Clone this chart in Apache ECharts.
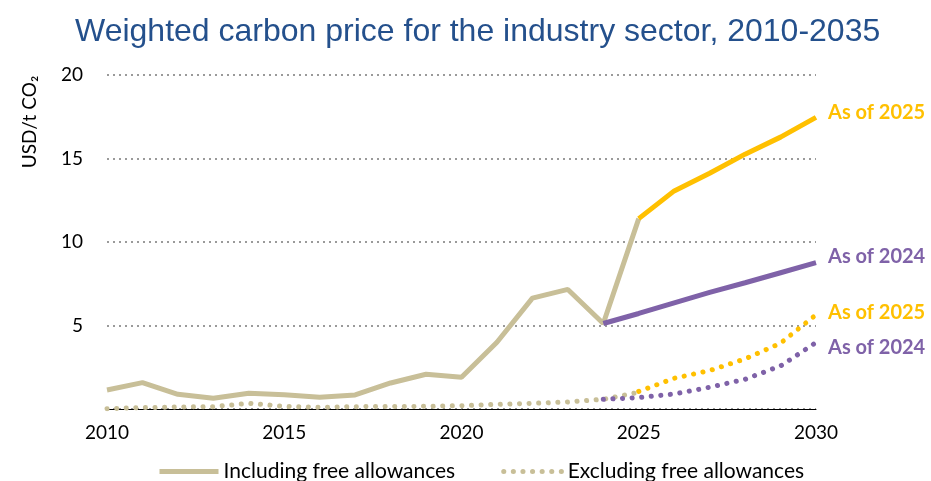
<!DOCTYPE html>
<html>
<head>
<meta charset="utf-8">
<script src="https://cdn.jsdelivr.net/npm/echarts@6/dist/echarts.min.js"></script>
<style>html,body{margin:0;padding:0;background:#fff}#c{width:931px;height:481px}</style>
</head>
<body>
<div id="c"></div>
<script>
const histYears = [2010,2011,2012,2013,2014,2015,2016,2017,2018,2019,2020,2021,2022,2023,2024,2025];
const inclFree = [1.14,1.58,0.88,0.64,0.94,0.86,0.7,0.84,1.56,2.08,1.9,4.0,6.64,7.16,5.12,11.4];
const exclFree = [0.02,0.08,0.12,0.14,0.34,0.16,0.1,0.14,0.15,0.16,0.2,0.28,0.34,0.42,0.58,1.0];

const years2025 = [2025,2026,2027,2028,2029,2030];
const incl2025 = [11.4,13.06,14.12,15.26,16.28,17.46];
const excl2025 = [1.05,1.84,2.3,3.0,3.94,5.64];

const years2024 = [2024,2025,2026,2027,2028,2029,2030];
const incl2024 = [5.12,5.72,6.36,6.98,7.56,8.16,8.76];
const excl2024 = [0.58,0.68,0.9,1.3,1.78,2.58,3.98];

const xTicks = [2010,2015,2020,2025,2030];
const yTicks = [0,5,10,15,20];

const TAN = '#c8bf98', YEL = '#ffc000', PUR = '#7f62a8';
const FONT = 'Lato';
const pair = (xs, ys) => xs.map((x, i) => [x, ys[i]]);
const dotted = [0.1, 9.5];
const endLbl = (text, color, dy) => ({show: true, formatter: text, color: color, fontFamily: FONT, fontWeight: 'bold', fontSize: 20, distance: 12, offset: [0, dy]});

const chart = echarts.init(document.getElementById('c'), null, {renderer: 'canvas'});
chart.setOption({
  animation: false,
  title: {
    text: 'Weighted carbon price for the industry sector, 2010-2035',
    left: 70, top: 11,
    textStyle: {fontFamily: 'Liberation Sans', fontWeight: 'normal', fontSize: 32, color: '#24508c'}
  },
  graphic: [{
    type: 'text', x: 30, y: 122, rotation: Math.PI / 2,
    style: {text: 'USD/t CO\u2082', font: '19px Lato', fill: '#000', align: 'center', verticalAlign: 'middle'}
  }],
  grid: {left: 107, right: 115, top: 75, bottom: 72, containLabel: false},
  legend: {
    bottom: -6, left: 152,
    data: ['Including free allowances', 'Excluding free allowances'],
    itemWidth: 59, itemHeight: 14, itemGap: 46,
    itemStyle: {opacity: 0},
    lineStyle: {width: 5},
    textStyle: {fontFamily: FONT, fontSize: 21, color: '#000'}
  },
  xAxis: {
    type: 'value', min: xTicks[0], max: xTicks[xTicks.length - 1], interval: 5,
    axisLine: {lineStyle: {color: '#000', width: 1}},
    axisTick: {show: false}, splitLine: {show: false},
    axisLabel: {fontFamily: FONT, fontSize: 19, color: '#000', margin: 14, formatter: v => String(v)}
  },
  yAxis: {
    type: 'value', min: yTicks[0], max: yTicks[yTicks.length - 1], interval: 5,
    axisLine: {show: false}, axisTick: {show: false},
    axisLabel: {fontFamily: FONT, fontSize: 19, color: '#000', margin: 24, formatter: v => v === 0 ? '' : String(v)},
    splitLine: {lineStyle: {color: '#9a9a9a', width: 2, type: [2, 4]}}
  },
  series: [
    {
      name: 'Excluding free allowances', type: 'line', symbol: 'none', z: 2,
      data: pair(histYears, exclFree),
      lineStyle: {color: TAN, width: 5, type: dotted, cap: 'round'}, itemStyle: {color: TAN}
    },
    {
      name: 'Excl 2024', type: 'line', symbol: 'none', z: 3,
      data: pair(years2024, excl2024),
      lineStyle: {color: PUR, width: 5, type: dotted, cap: 'round'},
      endLabel: endLbl('As of 2024', PUR, 5)
    },
    {
      name: 'Excl 2025', type: 'line', symbol: 'none', z: 3,
      data: pair(years2025, excl2025),
      lineStyle: {color: YEL, width: 5, type: dotted, cap: 'round'},
      endLabel: endLbl('As of 2025', YEL, -2)
    },
    {
      name: 'Including free allowances', type: 'line', symbol: 'none', z: 4,
      data: pair(histYears, inclFree),
      lineStyle: {color: TAN, width: 5}, itemStyle: {color: TAN}
    },
    {
      name: 'Incl 2024', type: 'line', symbol: 'none', z: 5,
      data: pair(years2024, incl2024),
      lineStyle: {color: PUR, width: 5},
      endLabel: endLbl('As of 2024', PUR, -6)
    },
    {
      name: 'Incl 2025', type: 'line', symbol: 'none', z: 5,
      data: pair(years2025, incl2025),
      lineStyle: {color: YEL, width: 5},
      endLabel: endLbl('As of 2025', YEL, -5)
    }
  ]
});
</script>
</body>
</html>
